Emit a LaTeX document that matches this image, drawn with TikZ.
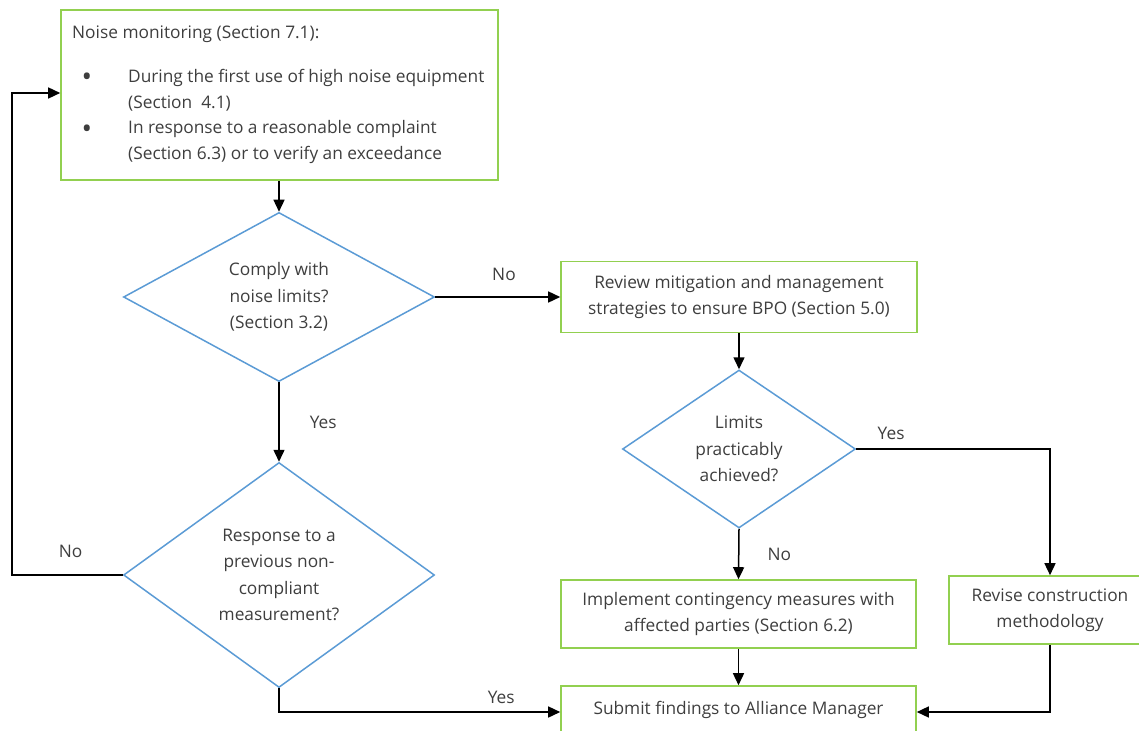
\documentclass[tikz,border=0pt]{standalone}
\usepackage{fontspec}
\setmainfont{Open Sans}
\usetikzlibrary{shapes.geometric,arrows.meta}
\definecolor{boxgreen}{RGB}{146,208,80}
\definecolor{diablue}{RGB}{91,155,213}
\definecolor{txt}{RGB}{62,62,62}
\newcommand{\fs}{\fontsize{17.3}{26.5}\selectfont}
\begin{document}
\begin{tikzpicture}[x=1pt,y=-1pt,
 box/.style={draw=boxgreen,line width=1.6pt,rectangle,inner sep=0,align=center,text=txt,font=\fs},
 dec/.style={draw=diablue,line width=1.5pt,diamond,inner sep=0,align=center,text=txt,font=\fs},
 lbl/.style={text=txt,font=\fs,inner sep=0},
 bul/.style={text=txt,font=\fontsize{28}{28}\selectfont,inner sep=0},
 conn/.style={line width=1.5pt,-{Triangle[length=12pt,width=11pt]}},
 plain/.style={line width=1.5pt}]
\clip (0,0) rectangle (1139,730);
% boxes
\node[box,minimum width=437,minimum height=170] (mon) at (279.5,95) {};
\node[lbl,anchor=base west] (t0) at (72,39) {Noise monitoring (Section 7.1):};
\node[bul] (b1) at (87,80) {\textbullet};
\node[bul] (b2) at (87,132) {\textbullet};
\node[lbl,anchor=base west] (t1) at (128,83) {During the first use of high noise equipment};
\node[lbl,anchor=base west] (t2) at (128,109) {(Section\ \ 4.1)};
\node[lbl,anchor=base west] (t3) at (128,134) {In response to a reasonable complaint};
\node[lbl,anchor=base west] (t4) at (128,160) {(Section 6.3) or to verify an exceedance};

\node[dec,minimum width=311,minimum height=169] (d1) at (279,297) {Comply with\\noise limits?\\(Section 3.2)};
\node[box,minimum width=356,minimum height=71] (rev) at (739,297) {Review mitigation and management\\strategies to ensure BPO (Section 5.0)};
\node[dec,minimum width=233,minimum height=158] (d2) at (739,449) {Limits\\practicably\\achieved?};
\node[box,minimum width=355,minimum height=68] (imp) at (738.5,614) {Implement contingency measures with\\affected parties (Section 6.2)};
\node[box,minimum width=202,minimum height=68] (rvs) at (1050,610) {Revise construction\\methodology};
\node[dec,minimum width=311,minimum height=225] (d3) at (279,575) {Response to a\\previous non-\\compliant\\measurement?};
\node[box,minimum width=355,minimum height=48] (sub) at (738.5,710) {Submit findings to Alliance Manager};

% connectors
\draw[conn] (mon.south -| d1.north) -- (d1.north);
\draw[conn] (d1.east) -- (rev.west) node[lbl,pos=0.55,above=16pt] {No};
\draw[conn] (rev.south) -- (d2.north);
\draw[conn] (d2.east) -| (rvs.north) node[lbl,pos=0.09,above=9pt] {Yes};
\draw[conn] (d2.south) -- (imp.north) node[lbl,pos=0.5,right=28pt] {No};
\draw[conn] (imp.south) -- (sub.north);
\draw[conn] (rvs.south) |- ([yshift=-2pt]sub.east);
\draw[conn] (d1.south) -- (d3.north) node[lbl,pos=0.5,right=30pt] {Yes};
\draw[conn] (d3.west) -- ++(-111,0) coordinate (lp) node[lbl,pos=0.47,above=17pt] {No} |- ([yshift=2pt]mon.west);
\draw[conn] (d3.south) |- ([yshift=-2pt]sub.west) node[lbl,pos=0.895,above=8pt] {Yes};
\end{tikzpicture}
\end{document}
